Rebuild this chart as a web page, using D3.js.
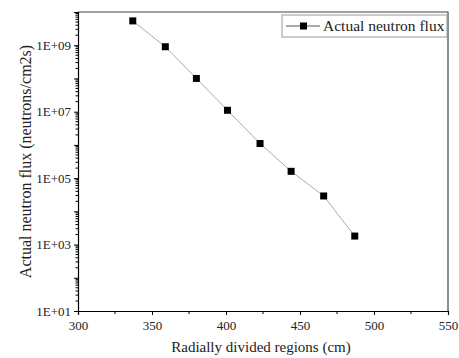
<!DOCTYPE html>
<html>
<head>
<meta charset="utf-8">
<script src="https://cdn.jsdelivr.net/npm/d3@7"></script>
<style>
  body { margin: 0; background: #fff; }
  svg text { font-family: "Liberation Serif", "Times New Roman", serif !important; fill: #222; }
</style>
</head>
<body>
<div id="chart"></div>
<script>
// data
const radius = [337, 359, 380, 401, 423, 444, 466, 487];
const flux = [5.4e9, 9.0e8, 1.0e8, 1.1e7, 1.1e6, 1.6e5, 2.9e4, 1.8e3];
const xTicks = [300, 350, 400, 450, 500, 550];
const yLabelTicks = [1e1, 1e3, 1e5, 1e7, 1e9];
const seriesName = "Actual neutron flux";

let margin = {top: 12, right: 11, bottom: 47, left: 78};
let width = 459 - margin.left - margin.right;
let height = 358 - margin.top - margin.bottom;

let svg = d3.select("#chart").append("svg")
    .attr("width", 459)
    .attr("height", 358)
    .append("g")
    .attr("transform", "translate(" + margin.left + "," + margin.top + ")");

let x = d3.scaleLinear().domain([300, 550]).range([0, width]);
let y = d3.scaleLog().domain([1e1, 1e10]).range([height, 0]);

// frame (top + right)
svg.append("path")
    .attr("d", "M0,0H" + width + "V" + height)
    .attr("fill", "none")
    .attr("stroke", "#444")
    .attr("stroke-width", 1.2);

// x axis
let xAxis = d3.axisBottom(x).tickValues(xTicks).tickSize(4).tickPadding(6);
let gx = svg.append("g").attr("transform", "translate(0," + height + ")").call(xAxis);
let xMinor = d3.range(325, 550, 50);
gx.selectAll(".minor").data(xMinor).enter().append("line")
    .attr("class", "minor")
    .attr("x1", d => x(d)).attr("x2", d => x(d))
    .attr("y1", 0).attr("y2", 3)
    .attr("stroke", "#000");

// y axis: major ticks every decade, labels at odd exponents
let decades = d3.range(1, 11).map(e => Math.pow(10, e));
let yAxis = d3.axisLeft(y).tickValues(decades).tickSize(4).tickPadding(3)
    .tickFormat(d => yLabelTicks.includes(d) ? "1E+" + String(Math.round(Math.log10(d))).padStart(2, "0") : "");
let gy = svg.append("g").call(yAxis);
let yMinor = [];
decades.slice(0, -1).forEach(base => { for (let k = 2; k <= 9; k++) yMinor.push(base * k); });
gy.selectAll(".minor").data(yMinor).enter().append("line")
    .attr("class", "minor")
    .attr("x1", -2.5).attr("x2", 0)
    .attr("y1", d => y(d)).attr("y2", d => y(d))
    .attr("stroke", "#000");

svg.selectAll(".domain").attr("stroke", "#000").attr("stroke-width", 1.2);
svg.selectAll(".tick line").attr("stroke", "#000");
gx.attr("font-family", "Liberation Serif").attr("font-size", 13);
gy.attr("font-family", "Liberation Serif").attr("font-size", 13);

// axis titles
svg.append("text")
    .attr("x", width / 2 - 2).attr("y", height + 41)
    .attr("text-anchor", "middle")
    .attr("font-family", "Liberation Serif")
    .attr("font-size", 15)
    .text("Radially divided regions (cm)");

svg.append("text")
    .attr("transform", "translate(" + (-47) + "," + (height / 2) + ") rotate(-90)")
    .attr("text-anchor", "middle")
    .attr("font-family", "Liberation Serif")
    .attr("font-size", 16)
    .text("Actual neutron flux (neutrons/cm2s)");

// series
let pts = radius.map((r, i) => [r, flux[i]]);
svg.append("path")
    .datum(pts)
    .attr("fill", "none")
    .attr("stroke", "#aaa")
    .attr("stroke-width", 1)
    .attr("d", d3.line().x(d => x(d[0])).y(d => y(d[1])));

svg.selectAll(".pt").data(pts).enter().append("rect")
    .attr("class", "pt")
    .attr("x", d => x(d[0]) - 3.5)
    .attr("y", d => y(d[1]) - 3.5)
    .attr("width", 7).attr("height", 7)
    .attr("fill", "#000");

// legend
let lg = svg.append("g").attr("transform", "translate(" + (width - 166) + ",3)");
lg.append("rect").attr("width", 165).attr("height", 22)
    .attr("fill", "#fff").attr("stroke", "#999").attr("stroke-width", 1);
lg.append("line").attr("x1", 4).attr("x2", 38).attr("y1", 11).attr("y2", 11)
    .attr("stroke", "#555").attr("stroke-width", 1);
lg.append("rect").attr("x", 18).attr("y", 7.5).attr("width", 7).attr("height", 7).attr("fill", "#000");
lg.append("text").attr("x", 41).attr("y", 16)
    .attr("font-family", "Liberation Serif")
    .attr("font-size", 15.5)
    .text(seriesName);
</script>
</body>
</html>
